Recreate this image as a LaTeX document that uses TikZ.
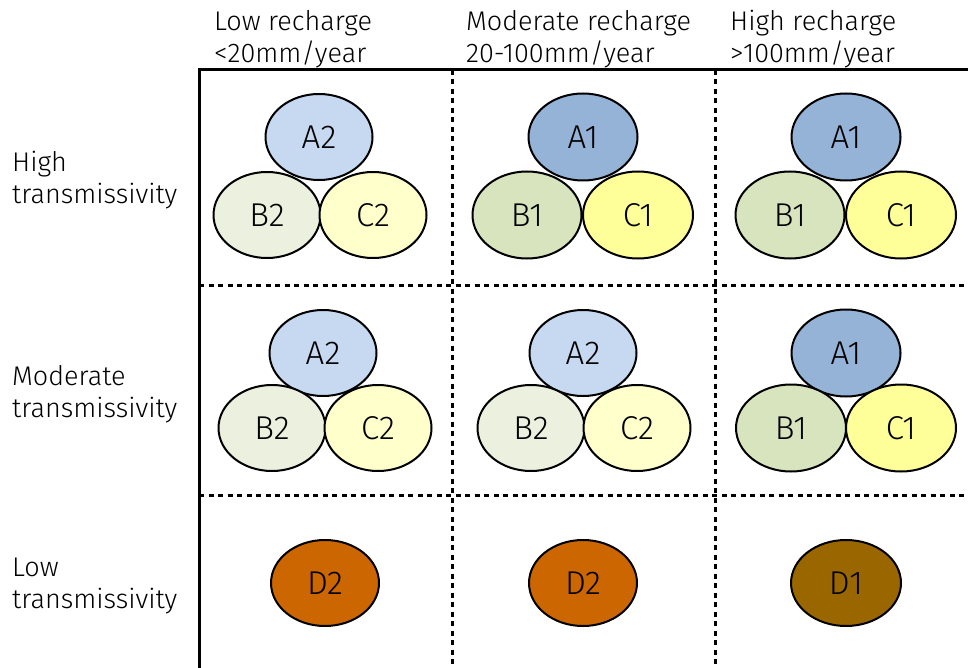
\documentclass[tikz,border=0pt]{standalone}
\usepackage{fontspec}
\setmainfont{Fira Sans}[UprightFont={* Light}]
\usetikzlibrary{shapes.geometric}
\definecolor{aone}{HTML}{95B3D7}
\definecolor{atwo}{HTML}{C6D9F1}
\definecolor{bone}{HTML}{D7E4BD}
\definecolor{btwo}{HTML}{EBF1DE}
\definecolor{cone}{HTML}{FFFF99}
\definecolor{ctwo}{HTML}{FFFFCC}
\definecolor{dtwo}{HTML}{CC6600}
\definecolor{done}{HTML}{996600}
\newcommand\zonefont{\fontsize{33}{36}\selectfont}
\tikzset{
  zone/.style={ellipse, draw=black, line width=2pt, minimum width=107pt,
    minimum height=86pt, inner sep=0pt, font=\zonefont},
  axisline/.style={line width=3pt},
  gridline/.style={line width=3pt, dash pattern=on 5pt off 4.5pt},
  head/.style={anchor=north west, align=left, inner sep=0pt,
    font=\fontsize{27}{32}\selectfont},
}
\begin{document}
\begin{tikzpicture}[x=1pt,y=-1pt]
\useasboundingbox (0,0) rectangle (968,668);
% frame
\coordinate (tl) at (199,70);
\coordinate (tr) at (968,70);
\coordinate (bl) at (199,668);
\draw[axisline] (bl) -- (tl) -- (tr);
% grid
\coordinate (v1t) at (452,70);  \coordinate (v1b) at (452,668);
\coordinate (v2t) at (715,70);  \coordinate (v2b) at (715,668);
\coordinate (h1l) at (199,285); \coordinate (h1r) at (968,285);
\coordinate (h2l) at (199,495); \coordinate (h2r) at (968,495);
\draw[gridline] (v1t) -- (v1b);
\draw[gridline] (v2t) -- (v2b);
\draw[gridline] (h1l) -- (h1r);
\draw[gridline] (h2l) -- (h2r);
% column headings
\node[head] (col1) at (214,10) {Low recharge\\<20mm/year};
\node[head] (col2) at (466,10) {Moderate recharge\\20-100mm/year};
\node[head] (col3) at (730,10) {High recharge\\>100mm/year};
% row headings
\node[head] (row1) at (12,151) {High\\transmissivity};
\node[head] (row2) at (12,365) {Moderate\\transmissivity};
\node[head] (row3) at (12,558) {Low\\transmissivity};
% row 1
\node[zone, fill=atwo] (a11) at (319,137) {A2};
\node[zone, fill=btwo] (b11) at (267,215) {B2};
\node[zone, fill=ctwo] (c11) at (373,215) {C2};
\node[zone, fill=aone, minimum width=109pt, minimum height=87pt] (a12) at (583,137) {A1};
\node[zone, fill=bone, minimum width=109pt, minimum height=87pt] (b12) at (527,215) {B1};
\node[zone, fill=cone, minimum width=110pt, minimum height=87pt] (c12) at (638,215) {C1};
\node[zone, fill=aone, minimum width=109pt, minimum height=87pt] (a13) at (846,137) {A1};
\node[zone, fill=bone, minimum width=109pt, minimum height=87pt] (b13) at (790,215) {B1};
\node[zone, fill=cone, minimum width=110pt, minimum height=87pt] (c13) at (901,215) {C1};
% row 2
\node[zone, fill=atwo] (a21) at (323,353) {A2};
\node[zone, fill=btwo] (b21) at (272,428) {B2};
\node[zone, fill=ctwo] (c21) at (378,428) {C2};
\node[zone, fill=atwo] (a22) at (583,353) {A2};
\node[zone, fill=btwo] (b22) at (531,428) {B2};
\node[zone, fill=ctwo] (c22) at (637,428) {C2};
\node[zone, fill=aone, minimum width=109pt, minimum height=87pt] (a23) at (846,353) {A1};
\node[zone, fill=bone, minimum width=110pt, minimum height=87pt] (b23) at (791,428) {B1};
\node[zone, fill=cone, minimum width=110pt, minimum height=87pt] (c23) at (901,428) {C1};
% row 3
\node[zone, fill=dtwo, minimum width=108pt] (d31) at (325,583) {D2};
\node[zone, fill=dtwo, minimum width=108pt] (d32) at (583,583) {D2};
\node[zone, fill=done, minimum width=110pt] (d33) at (846,583) {D1};
\end{tikzpicture}
\end{document}
